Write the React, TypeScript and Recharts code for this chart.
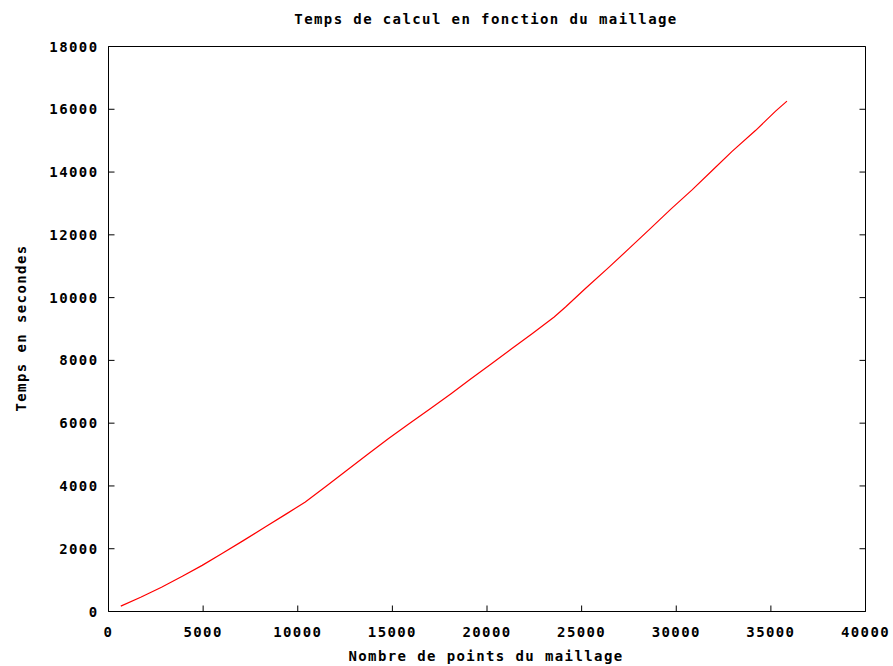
import { LineChart, Line, XAxis, YAxis } from 'recharts';

// Nombre de points du maillage
const meshPoints = [
  650, 1700, 2800, 3900, 4950, 6000, 7100, 8300, 9400, 10400, 11500, 12600, 13700,
  14800, 15900, 17000, 18100, 19100, 20200, 21300, 22400, 23550, 24150, 25200, 26450,
  27500, 28600, 29700, 30850, 31900, 32950, 34200, 35250, 35850,
];

// Temps en secondes
const seconds = [
  170, 455, 775, 1120, 1470, 1850, 2250, 2700, 3110, 3490, 3990, 4500, 5010,
  5510, 5990, 6460, 6940, 7390, 7880, 8370, 8860, 9380, 9700, 10290, 10970,
  11560, 12180, 12810, 13440, 14050, 14660, 15330, 15940, 16260,
];

const xTicks = [0, 5000, 10000, 15000, 20000, 25000, 30000, 35000, 40000];
const yTicks = [0, 2000, 4000, 6000, 8000, 10000, 12000, 14000, 16000, 18000];

const data = meshPoints.map((n, i) => ({ n, t: seconds[i] }));

const FONT = {
  fontFamily: '"DejaVu Sans Mono", "Liberation Mono", monospace',
  fontWeight: 'bold' as const,
  fontSize: 14,
  letterSpacing: 1.4,
  fill: '#000',
};

const TICK = 6;

// gnuplot style: ticks point inward
const BottomTick = ({ x, y, payload }: any) => (
  <g>
    <line x1={x} y1={y} x2={x} y2={y - TICK} stroke="#000" />
    <text x={x} y={y + 25} textAnchor="middle" style={FONT}>
      {payload.value}
    </text>
  </g>
);

const LeftTick = ({ x, y, payload }: any) => (
  <g>
    <line x1={x} y1={y} x2={x + TICK} y2={y} stroke="#000" />
    <text x={x - 10} y={y} dy="0.36em" textAnchor="end" style={FONT}>
      {payload.value}
    </text>
  </g>
);

const TopTick = ({ x, y }: any) => <line x1={x} y1={y} x2={x} y2={y + TICK} stroke="#000" />;

const RightTick = ({ x, y }: any) => <line x1={x - TICK} y1={y} x2={x} y2={y} stroke="#000" />;

export default function App() {
  return (
    <div style={{ position: 'absolute', left: 0, top: 0, width: 893, height: 666, background: '#fff' }}>
      <LineChart width={893} height={666} data={data} margin={{ top: 0, right: 0, bottom: 0, left: 0 }}>
        <XAxis
          dataKey="n"
          type="number"
          domain={[0, 40000]}
          allowDataOverflow
          ticks={xTicks}
          interval={0}
          height={54.5}
          tickSize={0}
          tickMargin={0}
          axisLine={{ stroke: '#000' }}
          tickLine={false}
          tick={<BottomTick />}
        />
        <XAxis
          xAxisId="top"
          orientation="top"
          type="number"
          domain={[0, 40000]}
          allowDataOverflow
          ticks={xTicks}
          interval={0}
          height={46.5}
          tickSize={0}
          tickMargin={0}
          axisLine={{ stroke: '#000' }}
          tickLine={false}
          tick={<TopTick />}
        />
        <YAxis
          type="number"
          domain={[0, 18000]}
          allowDataOverflow
          ticks={yTicks}
          interval={0}
          width={108.5}
          tickSize={0}
          tickMargin={0}
          axisLine={{ stroke: '#000' }}
          tickLine={false}
          tick={<LeftTick />}
        />
        <YAxis
          yAxisId="right"
          orientation="right"
          type="number"
          domain={[0, 18000]}
          allowDataOverflow
          ticks={yTicks}
          interval={0}
          width={27.5}
          tickSize={0}
          tickMargin={0}
          axisLine={{ stroke: '#000' }}
          tickLine={false}
          tick={<RightTick />}
        />
        <Line
          type="linear"
          dataKey="t"
          stroke="#ff0000"
          strokeWidth={1.2}
          dot={false}
          isAnimationActive={false}
        />
      </LineChart>

      {/* title and axis labels */}
      <svg
        width={893}
        height={666}
        style={{ position: 'absolute', left: 0, top: 0, pointerEvents: 'none' }}
      >
        <text x={486} y={24} textAnchor="middle" style={FONT}>
          Temps de calcul en fonction du maillage
        </text>
        <text x={486} y={661} textAnchor="middle" style={FONT}>
          Nombre de points du maillage
        </text>
        <text x={26} y={328} textAnchor="middle" transform="rotate(-90, 26, 328)" style={FONT}>
          Temps en secondes
        </text>
      </svg>
    </div>
  );
}
